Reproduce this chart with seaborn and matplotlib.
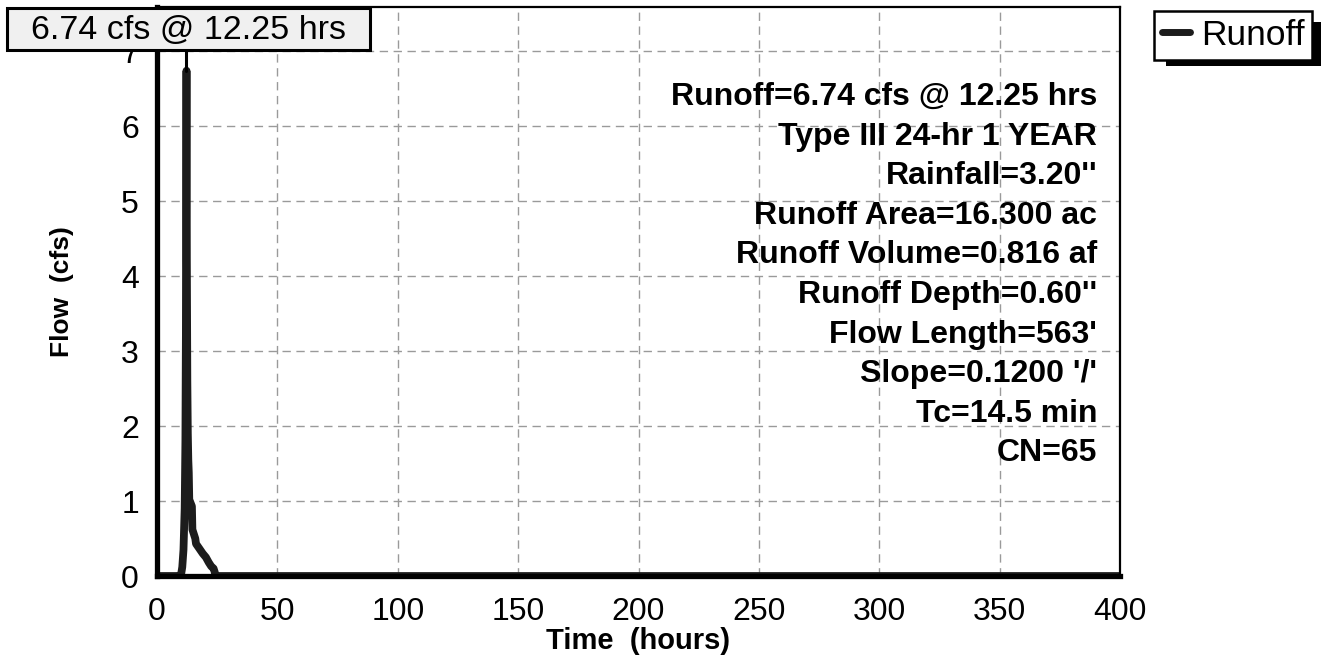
import matplotlib
matplotlib.use("Agg")
import matplotlib.pyplot as plt
import seaborn as sns
import pandas as pd
from matplotlib.ticker import MultipleLocator
from matplotlib.lines import Line2D
from matplotlib.patches import Rectangle

# ---- data ----
time_hr = [0, 9.0, 10.0, 10.5, 11.0, 11.5, 11.8, 12.0, 12.1, 12.25, 12.4, 12.6,
           12.8, 13.0, 13.2, 13.4, 14.5, 14.7, 15.9, 16.2, 17.5, 19.0, 20.3,
           21.5, 22.5, 23.5, 24.0, 24.2, 400]
flow_cfs = [0, 0, 0.02, 0.12, 0.35, 0.9, 1.8, 3.2, 4.8, 6.74, 4.2, 2.6,
            1.9, 1.55, 1.38, 1.02, 0.93, 0.62, 0.5, 0.43, 0.37, 0.30, 0.25,
            0.18, 0.13, 0.10, 0.05, 0.0, 0.0]
series_name = "Runoff"
peak_label = "6.74 cfs @ 12.25 hrs"
peak_time = 12.25
peak_flow = 6.74
info_lines = [
    "Runoff=6.74 cfs @ 12.25 hrs",
    "Type III 24-hr 1 YEAR",
    "Rainfall=3.20''",
    "Runoff Area=16.300 ac",
    "Runoff Volume=0.816 af",
    "Runoff Depth=0.60''",
    "Flow Length=563'",
    "Slope=0.1200 '/'",
    "Tc=14.5 min",
    "CN=65",
]
x_ticks = [0, 50, 100, 150, 200, 250, 300, 350, 400]
y_ticks = [0, 1, 2, 3, 4, 5, 6, 7]

sns.set_style("white")
plt.rcParams["font.family"] = ["Liberation Sans", "DejaVu Sans"]
plt.rcParams["text.color"] = "black"
plt.rcParams["axes.labelcolor"] = "black"

df = pd.DataFrame({"Time": time_hr, "Flow": flow_cfs, "Series": series_name})

W, H = 1325, 662
fig = plt.figure(figsize=(W / 100, H / 100), dpi=100)
ax = fig.add_axes([157 / W, 1 - 576 / H, (1120 - 157) / W, (576 - 7) / H])

sns.lineplot(data=df, x="Time", y="Flow", hue="Series", palette=["#1c1c1c"],
             estimator=None, sort=False, linewidth=5.6, ax=ax, legend=False,
             zorder=3, solid_joinstyle="round")

ax.set_xlim(0, 400)
ax.set_ylim(0, 7.59)
ax.set_xticks(x_ticks)
ax.set_yticks(y_ticks)
ax.xaxis.set_minor_locator(MultipleLocator(10))
ax.yaxis.set_minor_locator(MultipleLocator(0.2))

grid_kw = dict(color="#9a9a9a", linewidth=1.0, linestyle=(0, (6, 4)))
ax.grid(True, which="major", **grid_kw)
ax.set_axisbelow(True)
ax.axhline(0, zorder=4, **grid_kw)

ax.tick_params(axis="both", which="major", direction="out", length=9, width=2.2,
               color="#8a8a8a", labelsize=23, pad=4, labelcolor="black")
ax.tick_params(axis="both", which="minor", direction="out", length=5, width=2.2,
               color="#8a8a8a")
ax.tick_params(axis="x", which="major", pad=6)

for side in ["left", "bottom"]:
    ax.spines[side].set_linewidth(3.8)
    ax.spines[side].set_color("black")
for side in ["top", "right"]:
    ax.spines[side].set_linewidth(1.6)
    ax.spines[side].set_color("black")
for sp in ax.spines.values():
    sp.set_zorder(5)

ax.set_xlabel("Time  (hours)", fontsize=21, fontweight="bold", labelpad=0)
ax.set_ylabel("Flow  (cfs)", fontsize=19, fontweight="bold", labelpad=34)

# info text block, one line each
for i, line in enumerate(info_lines):
    fig.text(1097 / W, 1 - (97 + i * 39.6) / H, line, ha="right", va="center",
             fontsize=23, fontweight="bold", zorder=6)

# peak connector line
ax.plot([peak_time, peak_time], [peak_flow, 7.59], color="black", lw=2.2,
        zorder=4, clip_on=False)

# peak label box
fig.patches.append(Rectangle(
    (7 / W, 1 - 50 / H), (370 - 7) / W, (50 - 8) / H,
    transform=fig.transFigure, facecolor="#f0f0f0", edgecolor="black",
    linewidth=2.2, zorder=9))
fig.text(188.5 / W, 1 - 30 / H, peak_label, fontsize=24.5, ha="center",
         va="center", zorder=10)

# legend with shadow
handle = Line2D([], [], color="#1c1c1c", lw=5)
leg = fig.legend([handle], [series_name], loc="upper left",
                 bbox_to_anchor=(1154 / W, 1 - 11 / H), fontsize=25.5,
                 frameon=True, fancybox=False, shadow=False, handlelength=0.8,
                 handletextpad=0.3, borderpad=0.22, borderaxespad=0,
                 labelcolor="black")
frame = leg.get_frame()
frame.set_edgecolor("black")
frame.set_linewidth(1.8)
frame.set_facecolor("white")
frame.set_alpha(1.0)
leg.set_zorder(10)
fig.patches.append(Rectangle(
    (1166 / W, 1 - 66 / H), (1321 - 1166) / W, (66 - 22) / H,
    transform=fig.transFigure, facecolor="black", edgecolor="none", zorder=1))

fig.savefig("out.png", dpi=100)
